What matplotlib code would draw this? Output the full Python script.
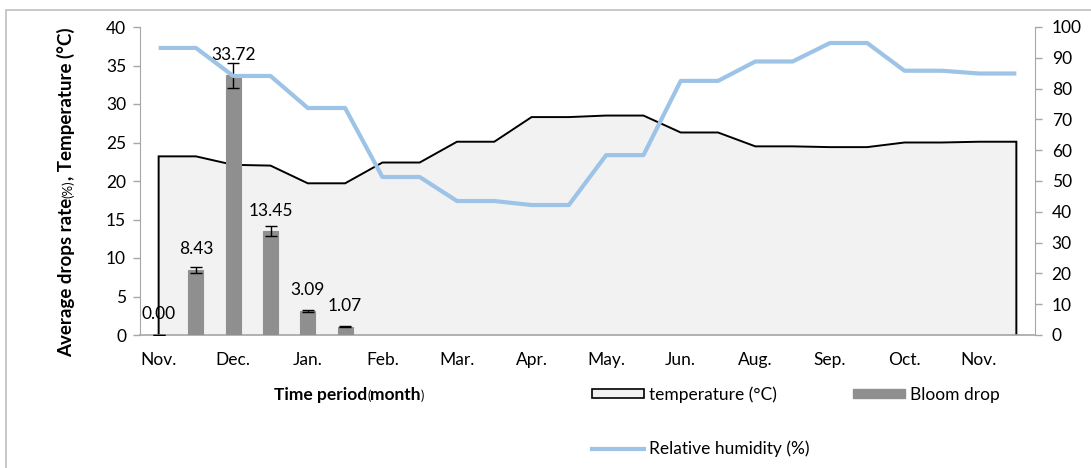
import matplotlib
matplotlib.use("Agg")
import matplotlib.pyplot as plt
import numpy as np
from matplotlib.patches import Rectangle, Patch
from matplotlib.lines import Line2D

plt.rcParams['font.family'] = ['Lato', 'DejaVu Sans']

# ---------------- data ----------------
month_labels = ["Nov.", "Dec.", "Jan.", "Feb.", "Mar.", "Apr.", "May.",
                "Jun.", "Aug.", "Sep.", "Oct.", "Nov."]
temperature = [23.2, 23.2, 22.1, 22.0, 19.7, 19.7, 22.4, 22.4, 25.1, 25.1,
               28.3, 28.3, 28.5, 28.5, 26.3, 26.3, 24.5, 24.5, 24.4, 24.4,
               25.0, 25.0, 25.1, 25.1]
humidity = [93.2, 93.2, 84.1, 84.1, 73.7, 73.7, 51.3, 51.3, 43.5, 43.5,
            42.2, 42.2, 58.4, 58.4, 82.5, 82.5, 88.8, 88.8, 94.8, 94.8,
            85.8, 85.8, 84.9, 84.9]
bloom_drop = [0.00, 8.43, 33.72, 13.45, 3.09, 1.07] + [0.0] * 18
bloom_err = [0.0, 0.4, 1.65, 0.65, 0.15, 0.05] + [0.0] * 18
labelled_bars = 6

n = len(temperature)
x = np.arange(n)

W, H = 1091, 468
FS = 12.5
fig = plt.figure(figsize=(W / 100, H / 100), dpi=100)
ax = fig.add_axes([140 / W, 1 - 335 / H, (1035 - 140) / W, (335 - 27) / H])

grey_axis = '#A6A6A6'

# area (temperature)
ax.fill_between(x, temperature, 0, color='#F2F2F2', lw=0, zorder=1)
ax.plot(np.concatenate([[x[0]], x, [x[-1]]]),
        np.concatenate([[0], temperature, [0]]),
        color='black', lw=1.4, zorder=2, solid_joinstyle='miter')

# bars
ax.bar(x, bloom_drop, width=0.4, color='#8F8F8F', edgecolor='#8F8F8F',
       lw=0.8, zorder=3)
ax.errorbar(x[:labelled_bars], bloom_drop[:labelled_bars],
            yerr=bloom_err[:labelled_bars], fmt='none', ecolor='black',
            elinewidth=1.0, capsize=4, capthick=1.0, zorder=4)
for i in range(labelled_bars):
    ax.annotate(f"{bloom_drop[i]:.2f}", (x[i], bloom_drop[i]),
                xytext=(0, 15), textcoords='offset points',
                ha='center', va='center', fontsize=FS, zorder=6)

ax.set_xlim(-0.5, n - 0.5)
ax.set_ylim(0, 40)
ax.set_yticks(np.arange(0, 41, 5))
ax.set_xticks(x[::2])
ax.set_xticklabels(month_labels, fontsize=FS)
ax.tick_params(axis='x', length=0, pad=12)
ax.tick_params(axis='y', length=5, width=1, color=grey_axis, pad=5,
               labelsize=FS, direction='out')
for s in ['top', 'right']:
    ax.spines[s].set_visible(False)
ax.spines['left'].set_color(grey_axis)
ax.spines['bottom'].set_color(grey_axis)
ax.spines['bottom'].set_linewidth(1.2)

# humidity on right axis
ax2 = ax.twinx()
ax2.plot(x, humidity, color='#9DC3E6', lw=3, zorder=5,
         solid_capstyle='butt')
ax2.set_ylim(0, 100)
ax2.set_yticks(np.arange(0, 101, 10))
ax2.tick_params(axis='y', length=5, width=1, color=grey_axis, pad=7,
                labelsize=FS, direction='out')
for s in ['top', 'left', 'bottom']:
    ax2.spines[s].set_visible(False)
ax2.spines['right'].set_color(grey_axis)

# frame around chart area
fig.patches.append(Rectangle((6 / W, -0.2), 1.5, 1 - 10 / H + 0.2,
                             transform=fig.transFigure, fill=False,
                             edgecolor='#BFBFBF', lw=1.2))

# mixed-style labels
fig.canvas.draw()
renderer = fig.canvas.get_renderer()


def seq_text(pieces, x0, y0, rotation=0):
    cx, cy = x0, y0
    for s, size, weight in pieces:
        t = fig.text(cx / W, cy / H, s, fontsize=size, fontweight=weight,
                     rotation=rotation, rotation_mode='anchor',
                     ha='left', va='baseline')
        bb = t.get_window_extent(renderer)
        if rotation == 0:
            cx += bb.width
        else:
            cy += bb.height


def total_len(pieces):
    tot = 0
    for s, size, weight in pieces:
        t = fig.text(0, 0, s, fontsize=size, fontweight=weight)
        tot += t.get_window_extent(renderer).width
        t.remove()
    return tot


ylab = [("Average drops rate", 13.5, 'bold'), ("(%)", 9.5, 'normal'),
        (", Temperature (°C)", 13.5, 'bold')]
xlab = [("Time period", 12.5, 'bold'), ("(", 9, 'normal'),
        ("month", 12.5, 'bold'), (")", 9, 'normal')]

ly = total_len(ylab)
lx = total_len(xlab)
seq_text(ylab, 72, (H - 192) - ly / 2, rotation=90)
seq_text(xlab, 349 - lx / 2, H - 400, rotation=0)

# legend
handles = [Patch(facecolor='#F2F2F2', edgecolor='black', lw=1.2),
           Line2D([], [], color='#9DC3E6', lw=3),
           Patch(facecolor='#8F8F8F', edgecolor='#8F8F8F')]
labels = ["temperature (°C)", "Relative humidity (%)", "Bloom drop"]
fig.legend(handles, labels, ncol=2, loc='upper left',
           bbox_to_anchor=(592 / W, 1 - 386 / H), frameon=False,
           fontsize=FS, handlelength=3.0, handleheight=0.45,
           handletextpad=0.3, labelspacing=2.2, columnspacing=2.5,
           borderpad=0, borderaxespad=0)

fig.savefig("out.png", dpi=100)
